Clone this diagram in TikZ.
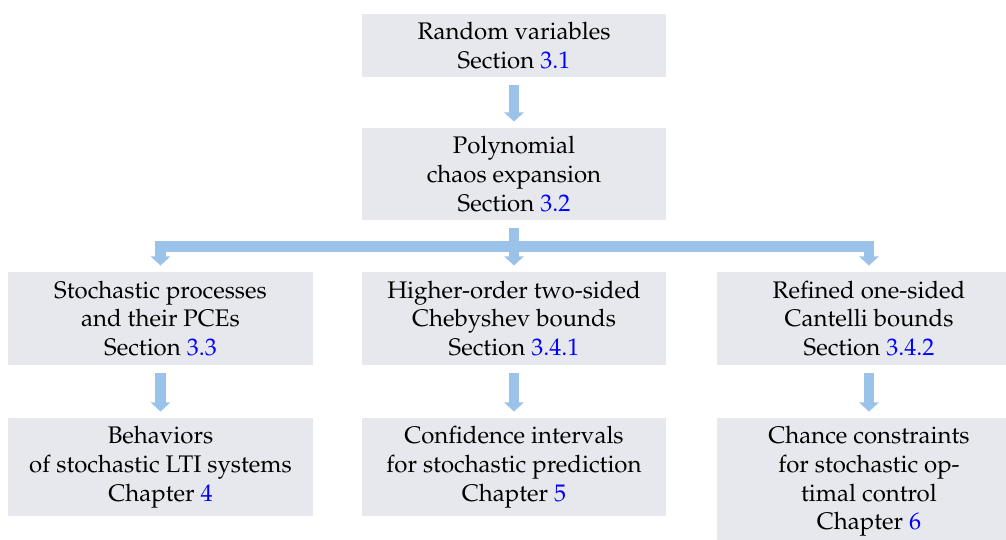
\documentclass[tikz,border=0pt]{standalone}
\usepackage[T1]{fontenc}
\usepackage{mathpazo}
\usepackage{tikz}
\usetikzlibrary{arrows.meta}

\definecolor{boxgray}{RGB}{231,232,237}
\definecolor{flowblue}{RGB}{155,195,234}
\newcommand{\secref}[1]{Section \textcolor{blue}{#1}}
\newcommand{\chapref}[1]{Chapter \textcolor{blue}{#1}}

\begin{document}
\begin{tikzpicture}[x=0.4167pt,y=-0.4167pt,
    topic/.style={fill=boxgray,align=center,minimum width=127pt,inner sep=0pt},
    flow/.style={draw=flowblue,line width=4.4pt,-{Triangle[width=8pt,length=3.8pt]},
      shorten >=2.5pt,shorten <=3pt}]
        \useasboundingbox (0,0) rectangle (1006,540);
        % top of the chain
        \node[topic,minimum height=26.25pt] (rv) at (514,45.5) {Random variables\\\secref{3.1}};
        \node[topic,minimum height=38.3pt] (pce) at (514,174) {Polynomial\\chaos expansion\\\secref{3.2}};
        % the three branches
        \node[topic,minimum height=38.75pt] (stoch) at (160.5,318.5) {Stochastic processes\\and their PCEs\\\secref{3.3}};
        \node[topic,minimum height=38.75pt] (cheb) at (514,318.5) {Higher-order two-sided\\Chebyshev bounds\\\secref{3.4.1}};
        \node[topic,minimum height=38.75pt] (cant) at (869,318.5) {Refined one-sided\\Cantelli bounds\\\secref{3.4.2}};
        % what each branch leads to
        \node[topic,minimum height=40.8pt] (lti) at (160.5,467) {Behaviors\\of stochastic LTI systems\\\chapref{4}};
        \node[topic,minimum height=40.8pt] (conf) at (514,467) {Confidence intervals\\for stochastic prediction\\\chapref{5}};
        \node[topic,minimum height=52.9pt] (chance) at (869,481.5) {Chance constraints\\for stochastic op-\\timal control\\\chapref{6}};

        \draw[flow] (rv) -- (pce);
        \draw[flow] (pce) -- (cheb);
        \draw[flow] (pce.south) -- ++(0,26) -| (stoch);
        \draw[flow] (pce.south) -- ++(0,26) -| (cant);
        \draw[flow] (stoch) -- (lti);
        \draw[flow] (cheb) -- (conf);
        \draw[flow] (cant) -- (chance);
    \end{tikzpicture}
\end{document}
